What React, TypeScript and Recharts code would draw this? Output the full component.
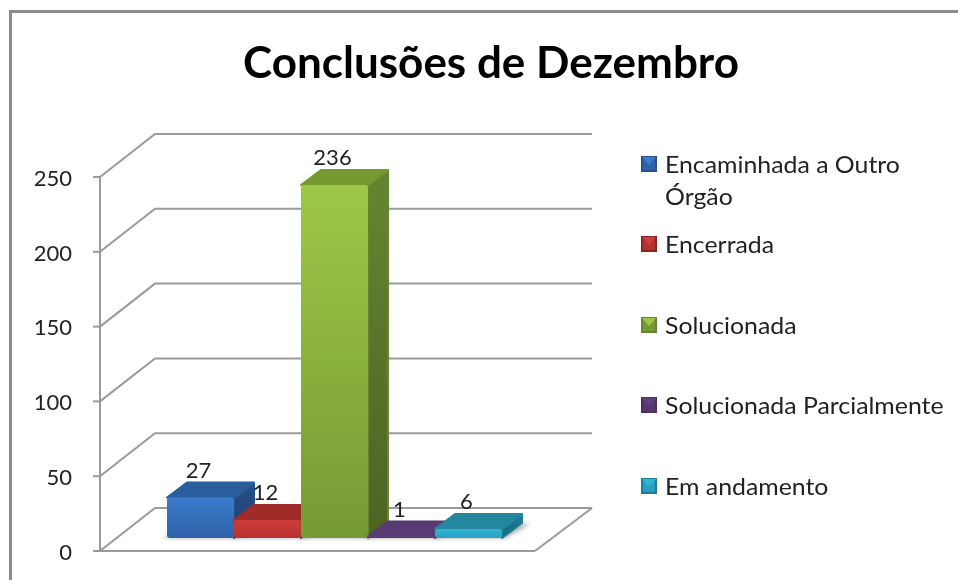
import * as React from 'react';
import { BarChart, Bar, XAxis, YAxis, CartesianGrid, Legend, LabelList } from 'recharts';

const seriesNames = [
  'Encaminhada a Outro Órgão',
  'Encerrada',
  'Solucionada',
  'Solucionada Parcialmente',
  'Em andamento',
];
const seriesValues = [27, 12, 236, 1, 6];
const yTicks = [0, 50, 100, 150, 200, 250];

const frontTop = ['#3b7bcc', '#cf3d3a', '#9cc846', '#5f3f7c', '#2fb4d6'];
const frontBottom = ['#2f62a8', '#b53230', '#769a35', '#553770', '#2a9fbe'];
const topColors = ['#2b5e9c', '#a02c2a', '#769a2f', '#593a72', '#24869f'];
const sideTop = ['#26508a', '#8a2523', '#668530', '#4c2f60', '#1d7e98'];
const sideBottom = ['#1f3f6c', '#7a1f1e', '#4d6323', '#402750', '#176a80'];

const chartData = [
  Object.fromEntries(seriesNames.map((name, i) => [name, seriesValues[i]])),
];

// bars stand a little behind the front edge of the floor
const BAR_DX = 17;
const BAR_DY = -13;
const BAR_DEPTH_X = 20;
const BAR_DEPTH_Y = -15;
// depth of the whole 3D box
const WALL_DX = 55;
const WALL_DY = -43;
const WALL_W = 437;
const GRID = '#9a9a9a';
const TEXT = '#222222';

function bar3d(index: number) {
  return (props: any) => {
    const x = props.x + BAR_DX;
    const y = props.y + BAR_DY;
    const w = props.width;
    const h = props.height;
    const dx = BAR_DEPTH_X;
    const dy = BAR_DEPTH_Y;
    return (
      <g>
        <polygon
          points={`${x - 4},${y + h} ${x + w + 3},${y + h} ${x + w + dx + 8},${y + h + dy + 1} ${x + dx},${y + h + dy}`}
          fill="#444"
          opacity={0.45}
          filter="url(#floorShadow)"
        />
        <polygon
          points={`${x + w},${y} ${x + w + dx},${y + dy} ${x + w + dx},${y + h + dy} ${x + w},${y + h}`}
          fill={`url(#side${index})`}
          stroke={sideTop[index]}
          strokeWidth={2}
          strokeLinejoin="round"
        />
        <polygon
          points={`${x},${y} ${x + dx},${y + dy} ${x + w + dx},${y + dy} ${x + w},${y}`}
          fill={topColors[index]}
          stroke={topColors[index]}
          strokeWidth={2}
          strokeLinejoin="round"
        />
        <rect x={x} y={y} width={w} height={h} rx={3} fill={`url(#front${index})`} />
      </g>
    );
  };
}

function gridLine(props: any) {
  const { x1, x2, y1, key } = props;
  const isFloor = Math.abs(y1 - 551) < 1;
  const back = y1 + WALL_DY;
  return (
    <g key={key}>
      <polyline
        points={`${x1},${y1} ${x1 + WALL_DX},${back} ${x1 + WALL_DX + WALL_W},${back}`}
        fill="none"
        stroke={GRID}
        strokeWidth={2}
      />
      {isFloor && (
        <line x1={x2} y1={y1} x2={x1 + WALL_DX + WALL_W} y2={back} stroke={GRID} strokeWidth={2} />
      )}
    </g>
  );
}

function barLabel(props: any) {
  const { x, y, width, value } = props;
  return (
    <text
      x={x + BAR_DX + width / 2 - 2}
      y={y + BAR_DY + BAR_DEPTH_Y - 5}
      textAnchor="middle"
      fontSize={22}
      fontFamily="Lato"
      fill={TEXT}
    >
      {value}
    </text>
  );
}

function LegendIcon({ index }: { index: number }) {
  return (
    <svg width={16} height={16} style={{ position: 'absolute', left: 0, top: 0 }}>
      <rect width={16} height={16} fill={sideTop[index]} />
      <rect x={2} y={2} width={12} height={12} fill={frontBottom[index]} />
      <polygon points="1,1 15,1 8,9" fill={frontTop[index]} />
    </svg>
  );
}

function legendContent(props: any) {
  const rows = [0, 80, 161, 241, 322];
  return (
    <div style={{ position: 'relative', width: 310, height: 340 }}>
      {(props.payload || []).map((entry: any, i: number) => (
        <div key={entry.value} style={{ position: 'absolute', left: 0, top: rows[i], width: 310 }}>
          <LegendIcon index={i} />
          <div
            style={{
              position: 'absolute',
              left: 24,
              top: -8,
              width: 270,
              fontFamily: 'Lato',
              fontSize: 23,
              lineHeight: '32px',
              color: TEXT,
              transform: 'scaleX(1.08)',
              transformOrigin: 'left top',
            }}
          >
            {entry.value}
          </div>
        </div>
      ))}
    </div>
  );
}

export default function App() {
  return (
    <div
      style={{
        position: 'absolute',
        left: 0,
        top: 0,
        width: 958,
        height: 580,
        overflow: 'hidden',
        background: '#fff',
        filter: 'blur(0.4px)',
      }}
    >
      <div
        style={{
          position: 'absolute',
          left: 9,
          top: 10,
          width: 970,
          height: 600,
          border: '3px solid #8c8c8c',
          boxSizing: 'border-box',
        }}
      />
      <BarChart
        width={958}
        height={580}
        data={chartData}
        margin={{ top: 177, right: 423, bottom: 28, left: 0 }}
        barCategoryGap={50}
        barGap={0}
        style={{ position: 'absolute', left: 0, top: 0 }}
      >
        <defs>
          <filter id="floorShadow" x="-30%" y="-60%" width="160%" height="220%">
            <feGaussianBlur stdDeviation="2" />
          </filter>
          {seriesNames.map((_, i) => (
            <React.Fragment key={i}>
              <linearGradient id={`front${i}`} x1="0" y1="0" x2="0" y2="1">
                <stop offset="0%" stopColor={frontTop[i]} />
                <stop offset="100%" stopColor={frontBottom[i]} />
              </linearGradient>
              <linearGradient id={`side${i}`} x1="0" y1="0" x2="0" y2="1">
                <stop offset="0%" stopColor={sideTop[i]} />
                <stop offset="100%" stopColor={sideBottom[i]} />
              </linearGradient>
            </React.Fragment>
          ))}
        </defs>
        <text x={491} y={78} textAnchor="middle" fontFamily="Lato" fontWeight={700} fontSize={44} fill="#000">
          Conclusões de Dezembro
        </text>
        <CartesianGrid horizontal={gridLine} vertical={false} />
        <XAxis
          dataKey={() => ''}
          tick={false}
          tickLine={false}
          height={1}
          stroke={GRID}
          strokeWidth={2}
        />
        <YAxis
          domain={[0, 250]}
          ticks={yTicks}
          width={100}
          tickSize={7}
          tickMargin={21}
          interval={0}
          stroke={GRID}
          strokeWidth={2}
          tick={{ fill: TEXT, stroke: 'none', fontSize: 22, fontFamily: 'Lato', dy: 1 }}
        />
        <Legend
          layout="horizontal"
          align="center"
          verticalAlign="middle"
          itemSorter={null}
          content={legendContent}
          wrapperStyle={{ position: 'absolute', left: 641, top: 156, width: 310 }}
        />
        {seriesNames.map((name, i) => (
          <Bar key={name} dataKey={name} fill={frontTop[i]} shape={bar3d(i)} isAnimationActive={false}>
            <LabelList dataKey={name} content={barLabel} />
          </Bar>
        ))}
      </BarChart>
    </div>
  );
}
